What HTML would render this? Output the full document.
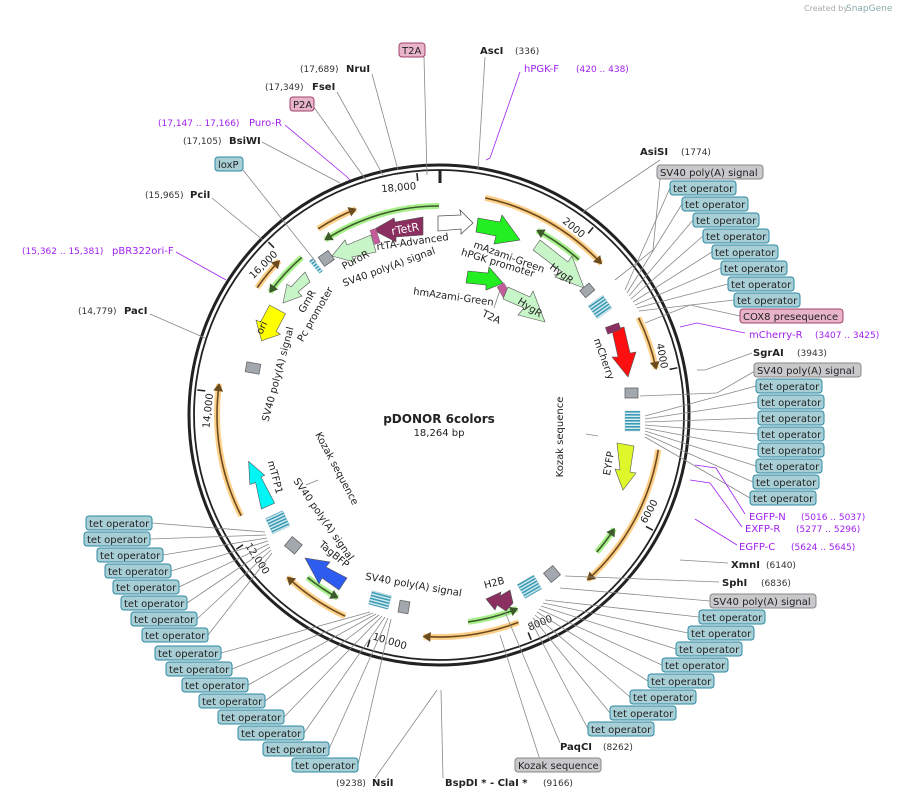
<!DOCTYPE html>
<html><head><meta charset="utf-8"><style>
body{margin:0;background:#fff}
svg{display:block}
text{font-family:"DejaVu Sans","Liberation Sans",sans-serif;font-size:10px;fill:#222}
.b{font-weight:bold}
.p{fill:#a020f0}
.n{fill:#333;font-size:9px}
.t{fill:#a8cfd6;stroke:#2b8aa0;stroke-width:1}
.g{fill:#c9c9cc;stroke:#888;stroke-width:1}
.k{fill:#e8b4c8;stroke:#a0406a;stroke-width:1}
.l{stroke:#888;stroke-width:0.8;fill:none}
.lp{stroke:#a020f0;stroke-width:0.8;fill:none}
.oh{fill:none;stroke:#fdd08a;stroke-width:6}
.ol{fill:none;stroke:#6b4a1e;stroke-width:1.6}
.gh{fill:none;stroke:#a8f08c;stroke-width:6}
.gl{fill:none;stroke:#3d5a2a;stroke-width:1.6}
.ah{fill:#6b4a1e}
.ag{fill:#3d5a2a}
.gb{fill:#a3a7ae;stroke:#666;stroke-width:0.8}
.hb{fill:url(#st);stroke:#7ab;stroke-width:0.3}
</style></head><body>
<svg width="901" height="800" viewBox="0 0 901 800">
<defs>
<pattern id="st" width="3" height="3" patternUnits="userSpaceOnUse">
<rect width="3" height="3" fill="#d8eef2"/><rect width="3" height="1.6" fill="#3a9ab4"/>
</pattern>
</defs>
<text x="804" y="11" style="font-size:8px;fill:#aaa">Created by</text><text x="846" y="11" style="font-size:9px;fill:#8aa">SnapGene</text>

<circle cx="439" cy="415" r="250" fill="none" stroke="#222" stroke-width="3"/>
<circle cx="439" cy="415" r="245" fill="none" stroke="#222" stroke-width="1.8"/>
<line x1="440" y1="170" x2="440" y2="183" stroke="#222" stroke-width="3"/>
<g stroke="#222" stroke-width="1.5">
<line x1="439" y1="172" x2="439" y2="180" transform="rotate(39.4 439 415)"/>
<line x1="439" y1="172" x2="439" y2="180" transform="rotate(78.8 439 415)"/>
<line x1="439" y1="172" x2="439" y2="180" transform="rotate(118.3 439 415)"/>
<line x1="439" y1="172" x2="439" y2="180" transform="rotate(157.7 439 415)"/>
<line x1="439" y1="172" x2="439" y2="180" transform="rotate(197.1 439 415)"/>
<line x1="439" y1="172" x2="439" y2="180" transform="rotate(236.5 439 415)"/>
<line x1="439" y1="172" x2="439" y2="180" transform="rotate(275.9 439 415)"/>
<line x1="439" y1="172" x2="439" y2="180" transform="rotate(315.4 439 415)"/>
<line x1="439" y1="172" x2="439" y2="180" transform="rotate(354.8 439 415)"/>
</g>
<g>
<text x="437" y="188" text-anchor="end" transform="rotate(39.4 439 415)">2000</text>
<text x="437" y="188" text-anchor="end" transform="rotate(78.8 439 415)">4000</text>
<text x="441" y="649" text-anchor="start" transform="rotate(-61.7 439 415)">6000</text>
<text x="441" y="649" text-anchor="start" transform="rotate(-22.3 439 415)">8000</text>
<text x="441" y="649" text-anchor="start" transform="rotate(17.1 439 415)">10,000</text>
<text x="441" y="649" text-anchor="start" transform="rotate(56.5 439 415)">12,000</text>
<text x="437" y="188" text-anchor="end" transform="rotate(275.9 439 415)">14,000</text>
<text x="437" y="188" text-anchor="end" transform="rotate(315.4 439 415)">16,000</text>
<text x="437" y="188" text-anchor="end" transform="rotate(354.8 439 415)">18,000</text>
</g>

<g>
<circle cx="439" cy="415" r="222" class="oh" stroke-dasharray="135.6 2000" transform="rotate(-78 439 415)"/>
<circle cx="439" cy="415" r="222" class="oh" stroke-dasharray="54.2 2000" transform="rotate(-26 439 415)"/>
<circle cx="439" cy="415" r="222" class="oh" stroke-dasharray="151 2000" transform="rotate(9 439 415)"/>
<circle cx="439" cy="415" r="222" class="oh" stroke-dasharray="96.9 2000" transform="rotate(69 439 415)"/>
<circle cx="439" cy="415" r="222" class="oh" stroke-dasharray="69.8 2000" transform="rotate(115 439 415)"/>
<circle cx="439" cy="415" r="222" class="oh" stroke-dasharray="135.6 2000" transform="rotate(153 439 415)"/>
<circle cx="439" cy="415" r="222" class="oh" stroke-dasharray="34.9 2000" transform="rotate(215 439 415)"/>
<circle cx="439" cy="415" r="222" class="oh" stroke-dasharray="42.6 2000" transform="rotate(237 439 415)"/>
<circle cx="439" cy="415" r="222" class="ol" stroke-dasharray="135.6 2000" transform="rotate(-78 439 415)"/>
<circle cx="439" cy="415" r="222" class="ol" stroke-dasharray="54.2 2000" transform="rotate(-26 439 415)"/>
<circle cx="439" cy="415" r="222" class="ol" stroke-dasharray="151 2000" transform="rotate(9 439 415)"/>
<circle cx="439" cy="415" r="222" class="ol" stroke-dasharray="96.9 2000" transform="rotate(69 439 415)"/>
<circle cx="439" cy="415" r="222" class="ol" stroke-dasharray="69.8 2000" transform="rotate(115 439 415)"/>
<circle cx="439" cy="415" r="222" class="ol" stroke-dasharray="135.6 2000" transform="rotate(153 439 415)"/>
<circle cx="439" cy="415" r="222" class="ol" stroke-dasharray="34.9 2000" transform="rotate(215 439 415)"/>
<circle cx="439" cy="415" r="222" class="ol" stroke-dasharray="42.6 2000" transform="rotate(237 439 415)"/>
<g class="ah">
<polygon points="440,193 432,188 432,198" transform="rotate(47 439 415)"/>
<polygon points="440,193 432,188 432,198" transform="rotate(78 439 415)"/>
<polygon points="440,193 432,188 432,198" transform="rotate(138 439 415)"/>
<polygon points="440,193 432,188 432,198" transform="rotate(184 439 415)"/>
<polygon points="440,193 432,188 432,198" transform="rotate(223 439 415)"/>
<polygon points="440,193 432,188 432,198" transform="rotate(278 439 415)"/>
<polygon points="440,193 432,188 432,198" transform="rotate(314 439 415)"/>
<polygon points="440,193 432,188 432,198" transform="rotate(338 439 415)"/>
</g>
<circle cx="439" cy="415" r="209" class="gh" stroke-dasharray="120.4 2000" transform="rotate(237 439 415)"/>
<circle cx="439" cy="415" r="209" class="gh" stroke-dasharray="51.1 2000" transform="rotate(-62 439 415)"/>
<circle cx="439" cy="415" r="209" class="gh" stroke-dasharray="29.2 2000" transform="rotate(33 439 415)"/>
<circle cx="439" cy="415" r="209" class="gh" stroke-dasharray="51.1 2000" transform="rotate(68 439 415)"/>
<circle cx="439" cy="415" r="209" class="gh" stroke-dasharray="36.5 2000" transform="rotate(119 439 415)"/>
<circle cx="439" cy="415" r="209" class="gh" stroke-dasharray="47.4 2000" transform="rotate(216 439 415)"/>
<circle cx="439" cy="415" r="209" class="gl" stroke-dasharray="120.4 2000" transform="rotate(237 439 415)"/>
<circle cx="439" cy="415" r="209" class="gl" stroke-dasharray="51.1 2000" transform="rotate(-62 439 415)"/>
<circle cx="439" cy="415" r="209" class="gl" stroke-dasharray="29.2 2000" transform="rotate(33 439 415)"/>
<circle cx="439" cy="415" r="209" class="gl" stroke-dasharray="51.1 2000" transform="rotate(68 439 415)"/>
<circle cx="439" cy="415" r="209" class="gl" stroke-dasharray="36.5 2000" transform="rotate(119 439 415)"/>
<circle cx="439" cy="415" r="209" class="gl" stroke-dasharray="47.4 2000" transform="rotate(216 439 415)"/>
<g class="ag">
<polygon points="438,206 446,201 446,211" transform="rotate(327 439 415)"/>
<polygon points="438,206 446,201 446,211" transform="rotate(28 439 415)"/>
<polygon points="438,206 446,201 446,211" transform="rotate(123 439 415)"/>
<polygon points="438,206 446,201 446,211" transform="rotate(158 439 415)"/>
<polygon points="438,206 446,201 446,211" transform="rotate(209 439 415)"/>
<polygon points="438,206 446,201 446,211" transform="rotate(306 439 415)"/>
</g>
</g>

<polygon points="438,216 461,215 460,210 473,223 461,234 461,229 438,231" fill="#fff" stroke="#555" stroke-width="0.8"/>
<polygon points="478,218 500,222 502,215 520,240 494,244 496,236 476,232" fill="#22ee22" stroke="#444" stroke-width="0.6"/>
<polygon points="540,240 568,262 572,256 584,288 555,277 562,272 533,250" fill="#c8f5c8" stroke="#555" stroke-width="0.6"/>
<text x="549" y="268" transform="rotate(38 549 268)">HygR</text>
<polygon points="468,271 488,273 489,267 503,283 486,290 486,285 466,283" fill="#22ee22" stroke="#444" stroke-width="0.6"/>
<rect x="500" y="284" width="8" height="14" fill="#c45a9a" stroke="#777" stroke-width="0.5" transform="rotate(-30 504 291)"/>
<polygon points="508,287 530,297 533,291 545,322 518,315 524,308 503,299" fill="#c8f5c8" stroke="#555" stroke-width="0.6"/>
<text x="517" y="303" transform="rotate(33 517 303)">HygR</text>
<polygon points="423,217 423,235 396,237 396,242 373,230 394,218 395,222" fill="#8a2f5f" stroke="#555" stroke-width="0.6"/>
<text x="392" y="235" transform="rotate(-10 392 235)" style="fill:#fff;font-size:11px">rTetR</text>
<polygon points="371,235 376,252 352,257 354,262 332,256 345,240 347,245" fill="#c8f5c8" stroke="#555" stroke-width="0.6"/>
<rect x="372" y="229" width="6" height="15" fill="#c45a9a" stroke="#777" stroke-width="0.5" transform="rotate(-18 375 236)"/>
<polygon points="305,272 310,282 298,292 302,296 283,303 287,284 291,287" fill="#c8f5c8" stroke="#555" stroke-width="0.6"/>
<polygon points="280,308 278,328 283,329 268,342 255,325 260,325 262,306" fill="#ffff00" stroke="#555" stroke-width="0.6" transform="rotate(22 268 325)"/>
<text x="262" y="335" transform="rotate(-65 262 335)">ori</text>
<polygon points="612,330 624,327 630,353 636,352 628,377 612,357 618,357" fill="#ff1010" stroke="#555" stroke-width="0.6"/>
<rect x="606" y="325" width="14" height="7" fill="#8a2f5f" stroke="#555" stroke-width="0.5" transform="rotate(-20 613 328)"/>
<polygon points="617,443 634,446 630,472 636,473 623,490 615,469 620,470" fill="#ddf72a" stroke="#555" stroke-width="0.6"/>
<polygon points="272,505 258,509 256,482 250,483 252,460 266,476 262,477" fill="#00f5f5" stroke="#555" stroke-width="0.6" transform="rotate(-8 260 485)"/>
<polygon points="347,578 339,590 322,578 319,584 305,558 330,562 326,567" fill="#2f5cf0" stroke="#555" stroke-width="0.6"/>
<polygon points="513,603 506,611 497,605 495,610 486,599 501,592 500,596 510,590" fill="#8a2f5f" stroke="#555" stroke-width="0.6"/>

<g class="gb">
<rect x="320" y="253" width="12" height="11" transform="rotate(-35 326 258)"/>
<rect x="246" y="363" width="14" height="10" transform="rotate(10 253 368)"/>
<rect x="581" y="286" width="12" height="9" transform="rotate(-40 587 290)"/>
<rect x="625" y="388" width="13" height="10"/>
<rect x="546" y="568" width="12" height="12" transform="rotate(-40 552 574)"/>
<rect x="399" y="601" width="10" height="12" transform="rotate(10 404 607)"/>
<rect x="287" y="539" width="13" height="12" transform="rotate(40 293 545)"/>
</g>
<g class="hb">
<rect x="591" y="299" width="18" height="16" transform="rotate(-35 600 307)"/>
<rect x="625" y="411" width="15" height="20"/>
<rect x="520" y="579" width="19" height="16" transform="rotate(-30 529 587)"/>
<rect x="370" y="593" width="20" height="14" transform="rotate(15 380 600)"/>
<rect x="268" y="514" width="19" height="17" transform="rotate(-25 277 522)"/>
<rect x="314" y="258" width="4" height="16" transform="rotate(-40 316 266)"/>
</g>

<text x="413" y="245" text-anchor="middle" transform="rotate(-8 413 245)">rtTA-Advanced</text>
<text x="390" y="270" text-anchor="middle" transform="rotate(-20 390 270)">SV40 poly(A) signal</text>
<text x="357" y="263" text-anchor="middle" transform="rotate(-28 357 263)">PuroR</text>
<text x="508" y="260" text-anchor="middle" transform="rotate(20 508 260)">mAzami-Green</text>
<text x="497" y="266" text-anchor="middle" transform="rotate(17 497 266)">hPGK promoter</text>
<text x="453" y="300" text-anchor="middle" transform="rotate(8 453 300)">hmAzami-Green</text>
<text x="490" y="320" text-anchor="middle" transform="rotate(25 490 320)">T2A</text>
<line x1="500" y1="290" x2="494" y2="308" class="l"/>
<text x="310" y="303" text-anchor="middle" transform="rotate(-60 310 303)">GmR</text>
<text x="318" y="316" text-anchor="middle" transform="rotate(-60 318 316)">Pc promoter</text>
<text x="281" y="375" text-anchor="middle" transform="rotate(-75 281 375)">SV40 poly(A) signal</text>
<text x="601" y="360" text-anchor="middle" transform="rotate(70 601 360)">mCherry</text>
<text x="563" y="437" text-anchor="middle" transform="rotate(-90 563 437)">Kozak sequence</text>
<line x1="586" y1="434" x2="598" y2="436" class="l"/>
<text x="612" y="464" text-anchor="middle" transform="rotate(-80 612 464)">EYFP</text>
<text x="334" y="470" text-anchor="middle" transform="rotate(62 334 470)">Kozak sequence</text>
<line x1="306" y1="485" x2="318" y2="480" class="l"/>
<text x="272" y="478" text-anchor="middle" transform="rotate(75 272 478)">mTFP1</text>
<text x="321" y="521" text-anchor="middle" transform="rotate(55 321 521)">SV40 poly(A) signal</text>
<text x="332" y="557" text-anchor="middle" transform="rotate(40 332 557)">TagBFP</text>
<text x="413" y="588" text-anchor="middle" transform="rotate(10 413 588)">SV40 poly(A) signal</text>
<text x="495" y="586" text-anchor="middle" transform="rotate(-15 495 586)">H2B</text>

<text x="439" y="423" text-anchor="middle" class="b" style="font-size:12px">pDONOR 6colors</text>
<text x="439" y="436" text-anchor="middle">18,264 bp</text>

<g class="l">
<line x1="424" y1="57" x2="427" y2="175"/>
<line x1="485" y1="57" x2="478" y2="170"/>
<line x1="372" y1="74" x2="398" y2="170"/>
<line x1="337" y1="92" x2="383" y2="175"/>
<line x1="313" y1="106" x2="366" y2="180"/>
<line x1="262" y1="142" x2="340" y2="183"/>
<line x1="243" y1="170" x2="316" y2="262"/>
<line x1="212" y1="198" x2="263" y2="240"/>
<line x1="150" y1="314" x2="205" y2="338"/>
<line x1="660" y1="160" x2="583" y2="212"/>
<polyline points="660,179 653,250 615,280"/>
<polyline points="740,316 690,305 645,323"/>
<polyline points="752,353 705,370 697,370"/>
<polyline points="755,371 717,393 640,396"/>
<line x1="728" y1="563" x2="680" y2="560"/>
<line x1="719" y1="582" x2="565" y2="576"/>
<line x1="710" y1="601" x2="560" y2="588"/>
<line x1="560" y1="743" x2="505" y2="612"/>
<line x1="540" y1="760" x2="500" y2="635"/>
<line x1="375" y1="778" x2="437" y2="690"/>
<line x1="443" y1="778" x2="441" y2="690"/>
<line x1="670" y1="188" x2="625" y2="290"/>
<line x1="682" y1="204" x2="627" y2="293"/>
<line x1="693" y1="220" x2="629" y2="296"/>
<line x1="703" y1="236" x2="631" y2="299"/>
<line x1="712" y1="252" x2="633" y2="302"/>
<line x1="721" y1="268" x2="635" y2="305"/>
<line x1="728" y1="284" x2="637" y2="308"/>
<line x1="734" y1="300" x2="639" y2="311"/>
<line x1="756" y1="386" x2="645" y2="416"/>
<line x1="758" y1="402" x2="645" y2="419"/>
<line x1="758" y1="418" x2="645" y2="422"/>
<line x1="758" y1="434" x2="645" y2="425"/>
<line x1="758" y1="450" x2="645" y2="428"/>
<line x1="756" y1="466" x2="645" y2="431"/>
<line x1="753" y1="482" x2="645" y2="434"/>
<line x1="750" y1="498" x2="645" y2="437"/>
<line x1="699" y1="617" x2="545" y2="600"/>
<line x1="688" y1="633" x2="543" y2="603"/>
<line x1="676" y1="649" x2="541" y2="606"/>
<line x1="662" y1="665" x2="539" y2="609"/>
<line x1="648" y1="681" x2="537" y2="612"/>
<line x1="630" y1="697" x2="535" y2="615"/>
<line x1="610" y1="713" x2="533" y2="618"/>
<line x1="588" y1="729" x2="531" y2="621"/>
<line x1="152" y1="523" x2="265" y2="532"/>
<line x1="150" y1="539" x2="266" y2="535"/>
<line x1="163" y1="555" x2="267" y2="538"/>
<line x1="171" y1="571" x2="268" y2="541"/>
<line x1="179" y1="587" x2="269" y2="544"/>
<line x1="187" y1="603" x2="270" y2="547"/>
<line x1="197" y1="619" x2="271" y2="550"/>
<line x1="208" y1="635" x2="272" y2="553"/>
<line x1="221" y1="653" x2="370" y2="612"/>
<line x1="232" y1="669" x2="373" y2="613"/>
<line x1="248" y1="685" x2="376" y2="614"/>
<line x1="265" y1="701" x2="379" y2="615"/>
<line x1="284" y1="717" x2="382" y2="616"/>
<line x1="304" y1="733" x2="385" y2="617"/>
<line x1="329" y1="749" x2="388" y2="618"/>
<line x1="358" y1="765" x2="391" y2="619"/>
</g>
<g class="lp">
<polyline points="520,72 490,158 486,160"/>
<polyline points="285,125 346,176 350,180"/>
<polyline points="176,252 226,280"/>
<polyline points="745,333 697,323 680,327"/>
<polyline points="745,514 716,468 695,465"/>
<polyline points="742,527 710,483 690,480"/>
<polyline points="737,545 695,519"/>
</g>

<rect x="399" y="43" width="26" height="14" rx="3" class="k"/><text x="402" y="54">T2A</text>
<text x="480" y="54" class="b">AscI</text><text x="515" y="54" class="n">(336)</text>
<text x="524" y="72" class="p">hPGK-F</text><text x="576" y="72" class="p" style="font-size:9px">(420 .. 438)</text>
<text x="300" y="72" class="n">(17,689)</text><text x="346" y="72" class="b">NruI</text>
<text x="265" y="90" class="n">(17,349)</text><text x="312" y="90" class="b">FseI</text>
<rect x="290" y="97" width="24" height="14" rx="3" class="k"/><text x="293" y="108">P2A</text>
<text x="158" y="126" class="p" style="font-size:9px">(17,147 .. 17,166)</text><text x="249" y="126" class="p">Puro-R</text>
<text x="183" y="144" class="n">(17,105)</text><text x="229" y="144" class="b">BsiWI</text>
<rect x="215" y="157" width="28" height="14" rx="3" class="t"/><text x="218" y="168">loxP</text>
<text x="145" y="198" class="n">(15,965)</text><text x="190" y="198" class="b">PciI</text>
<text x="22" y="254" class="p" style="font-size:9px">(15,362 .. 15,381)</text><text x="112" y="254" class="p">pBR322ori-F</text>
<text x="78" y="314" class="n">(14,779)</text><text x="124" y="314" class="b">PacI</text>

<text x="640" y="155" class="b">AsiSI</text><text x="681" y="155" class="n">(1774)</text>
<rect x="657" y="165" width="106" height="14" rx="3" class="g"/><text x="660" y="176">SV40 poly(A) signal</text>
<g>
<rect x="670" y="181" width="66" height="14" rx="3" class="t"/><text x="673" y="192">tet operator</text>
<rect x="682" y="197" width="66" height="14" rx="3" class="t"/><text x="685" y="208">tet operator</text>
<rect x="693" y="213" width="66" height="14" rx="3" class="t"/><text x="696" y="224">tet operator</text>
<rect x="703" y="229" width="66" height="14" rx="3" class="t"/><text x="706" y="240">tet operator</text>
<rect x="712" y="245" width="66" height="14" rx="3" class="t"/><text x="715" y="256">tet operator</text>
<rect x="721" y="261" width="66" height="14" rx="3" class="t"/><text x="724" y="272">tet operator</text>
<rect x="728" y="277" width="66" height="14" rx="3" class="t"/><text x="731" y="288">tet operator</text>
<rect x="734" y="293" width="66" height="14" rx="3" class="t"/><text x="737" y="304">tet operator</text>
</g>
<rect x="740" y="309" width="103" height="14" rx="3" class="k"/><text x="743" y="320">COX8 presequence</text>
<text x="749" y="338" class="p">mCherry-R</text><text x="815" y="338" class="p" style="font-size:9px">(3407 .. 3425)</text>
<text x="753" y="356" class="b">SgrAI</text><text x="797" y="356" class="n">(3943)</text>
<rect x="754" y="363" width="107" height="14" rx="3" class="g"/><text x="757" y="374">SV40 poly(A) signal</text>
<g>
<rect x="756" y="379" width="66" height="14" rx="3" class="t"/><text x="759" y="390">tet operator</text>
<rect x="758" y="395" width="66" height="14" rx="3" class="t"/><text x="761" y="406">tet operator</text>
<rect x="758" y="411" width="66" height="14" rx="3" class="t"/><text x="761" y="422">tet operator</text>
<rect x="758" y="427" width="66" height="14" rx="3" class="t"/><text x="761" y="438">tet operator</text>
<rect x="758" y="443" width="66" height="14" rx="3" class="t"/><text x="761" y="454">tet operator</text>
<rect x="756" y="459" width="66" height="14" rx="3" class="t"/><text x="759" y="470">tet operator</text>
<rect x="753" y="475" width="66" height="14" rx="3" class="t"/><text x="756" y="486">tet operator</text>
<rect x="750" y="491" width="66" height="14" rx="3" class="t"/><text x="753" y="502">tet operator</text>
</g>
<text x="749" y="520" class="p">EGFP-N</text><text x="801" y="520" class="p" style="font-size:9px">(5016 .. 5037)</text>
<text x="745" y="532" class="p">EXFP-R</text><text x="796" y="532" class="p" style="font-size:9px">(5277 .. 5296)</text>
<text x="739" y="550" class="p">EGFP-C</text><text x="791" y="550" class="p" style="font-size:9px">(5624 .. 5645)</text>
<text x="731" y="568" class="b">XmnI</text><text x="766" y="568" class="n">(6140)</text>
<text x="722" y="586" class="b">SphI</text><text x="761" y="586" class="n">(6836)</text>
<rect x="710" y="594" width="106" height="14" rx="3" class="g"/><text x="713" y="605">SV40 poly(A) signal</text>
<g>
<rect x="699" y="610" width="66" height="14" rx="3" class="t"/><text x="702" y="621">tet operator</text>
<rect x="688" y="626" width="66" height="14" rx="3" class="t"/><text x="691" y="637">tet operator</text>
<rect x="676" y="642" width="66" height="14" rx="3" class="t"/><text x="679" y="653">tet operator</text>
<rect x="662" y="658" width="66" height="14" rx="3" class="t"/><text x="665" y="669">tet operator</text>
<rect x="648" y="674" width="66" height="14" rx="3" class="t"/><text x="651" y="685">tet operator</text>
<rect x="630" y="690" width="66" height="14" rx="3" class="t"/><text x="633" y="701">tet operator</text>
<rect x="610" y="706" width="66" height="14" rx="3" class="t"/><text x="613" y="717">tet operator</text>
<rect x="588" y="722" width="66" height="14" rx="3" class="t"/><text x="591" y="733">tet operator</text>
</g>
<text x="560" y="750" class="b">PaqCI</text><text x="603" y="750" class="n">(8262)</text>
<rect x="515" y="758" width="86" height="14" rx="3" class="g"/><text x="518" y="769">Kozak sequence</text>
<text x="336" y="786" class="n">(9238)</text><text x="372" y="786" class="b">NsiI</text>
<text x="445" y="786" class="b">BspDI * - ClaI *</text><text x="543" y="786" class="n">(9166)</text>
<g>
<rect x="86" y="516" width="66" height="14" rx="3" class="t"/><text x="89" y="527">tet operator</text>
<rect x="84" y="532" width="66" height="14" rx="3" class="t"/><text x="87" y="543">tet operator</text>
<rect x="97" y="548" width="66" height="14" rx="3" class="t"/><text x="100" y="559">tet operator</text>
<rect x="105" y="564" width="66" height="14" rx="3" class="t"/><text x="108" y="575">tet operator</text>
<rect x="113" y="580" width="66" height="14" rx="3" class="t"/><text x="116" y="591">tet operator</text>
<rect x="121" y="596" width="66" height="14" rx="3" class="t"/><text x="124" y="607">tet operator</text>
<rect x="131" y="612" width="66" height="14" rx="3" class="t"/><text x="134" y="623">tet operator</text>
<rect x="142" y="628" width="66" height="14" rx="3" class="t"/><text x="145" y="639">tet operator</text>
<rect x="155" y="646" width="66" height="14" rx="3" class="t"/><text x="158" y="657">tet operator</text>
<rect x="166" y="662" width="66" height="14" rx="3" class="t"/><text x="169" y="673">tet operator</text>
<rect x="182" y="678" width="66" height="14" rx="3" class="t"/><text x="185" y="689">tet operator</text>
<rect x="199" y="694" width="66" height="14" rx="3" class="t"/><text x="202" y="705">tet operator</text>
<rect x="218" y="710" width="66" height="14" rx="3" class="t"/><text x="221" y="721">tet operator</text>
<rect x="238" y="726" width="66" height="14" rx="3" class="t"/><text x="241" y="737">tet operator</text>
<rect x="263" y="742" width="66" height="14" rx="3" class="t"/><text x="266" y="753">tet operator</text>
<rect x="292" y="758" width="66" height="14" rx="3" class="t"/><text x="295" y="769">tet operator</text>
</g>
</svg>
</body></html>
